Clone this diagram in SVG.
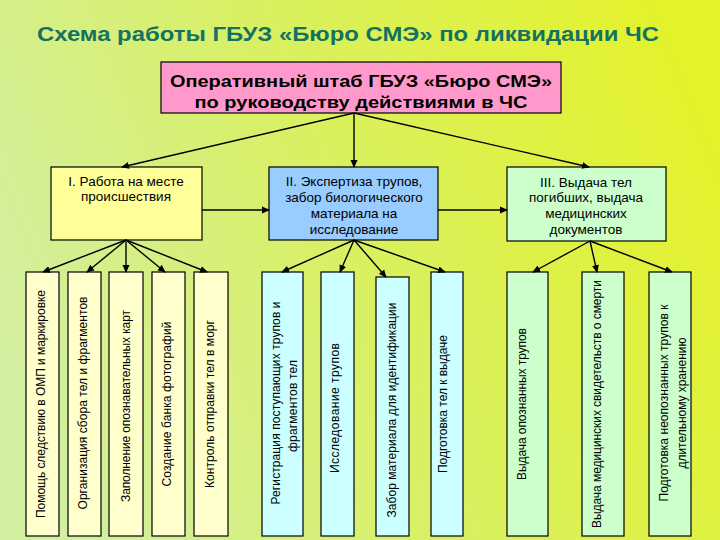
<svg xmlns="http://www.w3.org/2000/svg" width="720" height="540" viewBox="0 0 720 540">
<defs>
<linearGradient id="bg" x1="0" y1="0.6" x2="1" y2="0.3">
<stop offset="0" stop-color="#d3efa0"/>
<stop offset="0.5" stop-color="#d9f060"/>
<stop offset="1" stop-color="#e4f22c"/>
</linearGradient>
<marker id="ah" markerWidth="8" markerHeight="8" refX="7" refY="4" orient="auto" markerUnits="userSpaceOnUse">
<path d="M0,0.5 L8,4 L0,7.5 z" fill="#000"/>
</marker>
<style>
.b{stroke:#000;stroke-width:1.2}
.top{fill:#ff99cc}
.y1{fill:#ffff99}
.bl1{fill:#99ccff}
.g1{fill:#ccffcc}
.y2{fill:#ffffcc}
.bl2{fill:#ccffff}
.t{font-family:"Liberation Sans",Arial,sans-serif;fill:#000}
.m{font-size:13.5px;text-anchor:middle}
.v{font-size:12px;text-anchor:middle}
.c line{stroke:#000;stroke-width:1.4;marker-end:url(#ah)}
</style>
</defs>
<rect width="720" height="540" fill="url(#bg)"/>
<text x="348" y="41" text-anchor="middle" font-family="'Liberation Sans',Arial,sans-serif" font-weight="bold" font-size="20" fill="#137262" textLength="622" lengthAdjust="spacingAndGlyphs">Схема работы ГБУЗ «Бюро СМЭ» по ликвидации ЧС</text>

<g id="top">
<rect class="b top" x="161" y="62" width="400" height="51"/>
<text class="t" x="361" y="87" text-anchor="middle" font-weight="bold" font-size="17" textLength="382" lengthAdjust="spacingAndGlyphs">Оперативный штаб ГБУЗ «Бюро СМЭ»</text>
<text class="t" x="361" y="108" text-anchor="middle" font-weight="bold" font-size="17" textLength="333" lengthAdjust="spacingAndGlyphs">по руководству действиями в ЧС</text>
</g>

<g id="n1">
<rect class="b y1" x="51" y="167" width="151" height="73"/>
<text class="t m" x="126" y="186">I. Работа на месте</text>
<text class="t m" x="126" y="201">происшествия</text>
</g>
<g id="n2">
<rect class="b bl1" x="269" y="167" width="169" height="73"/>
<text class="t m" x="354" y="186">II. Экспертиза трупов,</text>
<text class="t m" x="354" y="202">забор биологического</text>
<text class="t m" x="354" y="218">материала на</text>
<text class="t m" x="354" y="234">исследование</text>
</g>
<g id="n3">
<rect class="b g1" x="507" y="167" width="159" height="74"/>
<text class="t m" x="586" y="187">III. Выдача тел</text>
<text class="t m" x="586" y="202">погибших, выдача</text>
<text class="t m" x="586" y="218">медицинских</text>
<text class="t m" x="586" y="234">документов</text>
</g>

<g id="y1">
<rect class="b y2" x="26" y="272" width="33" height="264"/>
<text class="t v" transform="translate(45,404) rotate(-90)" textLength="228" lengthAdjust="spacing">Помощь следствию в ОМП и маркировке</text>
</g>
<g id="y2">
<rect class="b y2" x="68" y="272" width="33" height="264"/>
<text class="t v" transform="translate(87,403) rotate(-90)" textLength="213" lengthAdjust="spacing">Организация сбора тел и фрагментов</text>
</g>
<g id="y3">
<rect class="b y2" x="109" y="272" width="34" height="264"/>
<text class="t v" transform="translate(130,406) rotate(-90)" textLength="192" lengthAdjust="spacing">Заполнение опознавательных карт</text>
</g>
<g id="y4">
<rect class="b y2" x="152" y="272" width="33" height="264"/>
<text class="t v" transform="translate(171,404) rotate(-90)" textLength="165" lengthAdjust="spacing">Создание банка фотографий</text>
</g>
<g id="y5">
<rect class="b y2" x="194" y="272" width="34" height="264"/>
<text class="t v" transform="translate(214,404) rotate(-90)" textLength="168" lengthAdjust="spacing">Контроль отправки тел в морг</text>
</g>

<g id="b1">
<rect class="b bl2" x="262" y="272" width="41" height="264"/>
<text class="t v" transform="translate(280,403) rotate(-90)" textLength="203" lengthAdjust="spacing">Регистрация  поступающих трупов и</text>
<text class="t v" transform="translate(297,406) rotate(-90)" textLength="92" lengthAdjust="spacing">фрагментов тел</text>
</g>
<g id="b2">
<rect class="b bl2" x="321" y="272" width="33" height="264"/>
<text class="t v" transform="translate(339,408) rotate(-90)" textLength="130" lengthAdjust="spacing">Исследование трупов</text>
</g>
<g id="b3">
<rect class="b bl2" x="376" y="277" width="33" height="259"/>
<text class="t v" transform="translate(396,410) rotate(-90)" textLength="215" lengthAdjust="spacing">Забор материала для идентификации</text>
</g>
<g id="b4">
<rect class="b bl2" x="431" y="272" width="32" height="264"/>
<text class="t v" transform="translate(447,404) rotate(-90)" textLength="138" lengthAdjust="spacing">Подготовка тел к выдаче</text>
</g>

<g id="g1">
<rect class="b g1" x="507" y="272" width="41" height="264"/>
<text class="t v" transform="translate(526,404) rotate(-90)" textLength="152" lengthAdjust="spacing">Выдача опознанных трупов</text>
</g>
<g id="g2">
<rect class="b g1" x="582" y="272" width="42" height="264"/>
<text class="t v" transform="translate(601,404) rotate(-90)" textLength="248" lengthAdjust="spacing">Выдача медицинских свидетельств о смерти</text>
</g>
<g id="g3">
<rect class="b g1" x="649" y="272" width="42" height="264"/>
<text class="t v" transform="translate(668,403) rotate(-90)" textLength="197" lengthAdjust="spacing">Подготовка  неопознанных трупов к</text>
<text class="t v" transform="translate(686,403) rotate(-90)" textLength="131" lengthAdjust="spacing">длительному хранению</text>
</g>

<g id="connectors" class="c">
<line x1="354" y1="113" x2="122" y2="167"/>
<line x1="354" y1="113" x2="354" y2="167"/>
<line x1="354" y1="113" x2="589" y2="167"/>
<line x1="202" y1="210" x2="269" y2="210"/>
<line x1="438" y1="210" x2="507" y2="210"/>
<line x1="126" y1="240" x2="43" y2="272"/>
<line x1="126" y1="240" x2="87" y2="272"/>
<line x1="126" y1="240" x2="126" y2="272"/>
<line x1="126" y1="240" x2="165" y2="272"/>
<line x1="126" y1="240" x2="207" y2="272"/>
<line x1="354" y1="240" x2="282" y2="272"/>
<line x1="354" y1="240" x2="340" y2="272"/>
<line x1="354" y1="240" x2="386" y2="277"/>
<line x1="354" y1="240" x2="445" y2="272"/>
<line x1="590" y1="241" x2="533" y2="272"/>
<line x1="590" y1="241" x2="597" y2="272"/>
<line x1="590" y1="241" x2="672" y2="272"/>
</g>
</svg>
